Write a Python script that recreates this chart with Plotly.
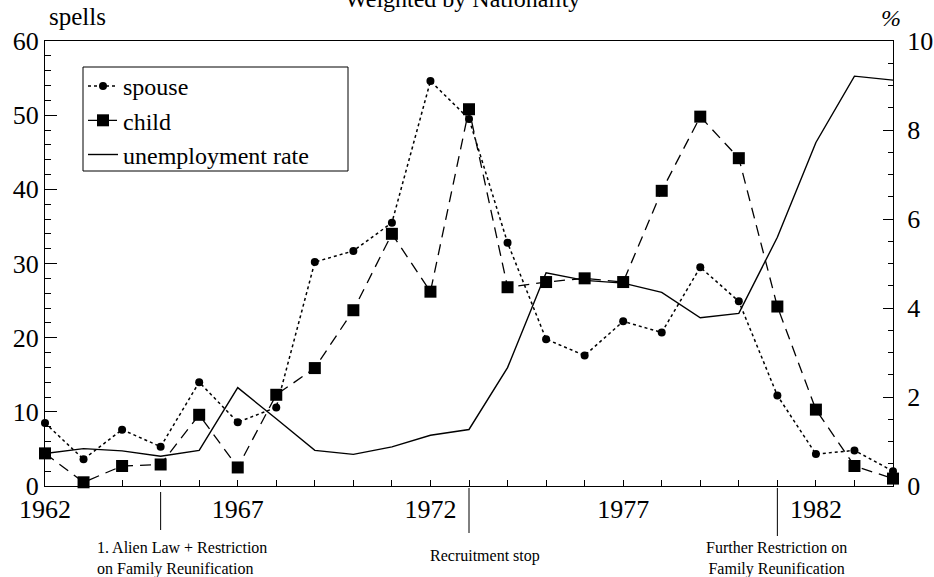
import plotly.graph_objects as go

years = list(range(1962, 1985))
spouse = [8.5, 3.6, 7.6, 5.3, 14.0, 8.6, 10.6, 30.2, 31.7, 35.5, 54.6, 49.5,
          32.8, 19.8, 17.6, 22.2, 20.7, 29.5, 24.9, 12.2, 4.3, 4.8, 2.0]
child = [4.4, 0.5, 2.7, 2.9, 9.6, 2.5, 12.3, 15.9, 23.7, 34.0, 26.2, 50.8,
         26.8, 27.5, 28.0, 27.5, 39.8, 49.8, 44.2, 24.2, 10.3, 2.7, 1.0]
unemp = [0.73, 0.84, 0.79, 0.67, 0.80, 2.21, 1.51, 0.80, 0.71, 0.88, 1.14, 1.27,
         2.66, 4.79, 4.62, 4.56, 4.35, 3.78, 3.88, 5.59, 7.72, 9.21, 9.12]

event_years = [1965, 1973, 1981]
event_labels = ["1. Alien Law + Restriction<br>on Family Reunification",
                "Recruitment stop",
                "Further Restriction on<br>Family Reunification"]

FONT = "Liberation Serif"
X0, X1 = 1962, 1984
L, R, T, B = 45, 893, 41, 486   # plot area in pixels
PW, PH = R - L, B - T


def px(xpix):
    return (xpix - L) / PW


def py(ypix):
    return (B - ypix) / PH


fig = go.Figure()
fig.add_trace(go.Scatter(x=years, y=spouse, name="spouse", mode="lines+markers",
                         cliponaxis=False,
                         line=dict(color="black", width=1.5, dash="dot"),
                         marker=dict(symbol="circle", size=8, color="black")))
fig.add_trace(go.Scatter(x=years, y=child, name="child", mode="lines+markers",
                         cliponaxis=False,
                         line=dict(color="black", width=1.3, dash="11px,7px"),
                         marker=dict(symbol="square", size=12, color="black")))
fig.add_trace(go.Scatter(x=years, y=unemp, name="unemployment rate", mode="lines",
                         line=dict(color="black", width=1.4), yaxis="y2"))

axis_common = dict(showgrid=False, zeroline=False, showline=True, linecolor="black",
                   linewidth=1.3, ticks="inside", tickcolor="black", automargin=False,
                   tickfont=dict(family=FONT, size=26, color="black"))

fig.update_layout(
    width=934, height=577,
    margin=dict(l=L, r=934 - R, t=T, b=577 - B, autoexpand=False),
    paper_bgcolor="white", plot_bgcolor="white",
    font=dict(family=FONT, color="black"),
    showlegend=True,
    legend=dict(x=px(83), y=py(64), xanchor="left", yanchor="top",
                bgcolor="rgba(0,0,0,0)", borderwidth=0,
                font=dict(family=FONT, size=24, color="black"),
                tracegroupgap=0, itemwidth=30),
    xaxis=dict(range=[X0, X1], tick0=1962, dtick=5, ticklen=6, mirror=True,
               minor=dict(dtick=1, ticklen=6, ticks="inside", tickcolor="black"),
               **axis_common),
    yaxis=dict(range=[0, 60], dtick=10, ticklen=12,
               minor=dict(dtick=2, ticklen=6, ticks="inside", tickcolor="black"),
               **axis_common),
    yaxis2=dict(range=[0, 10], dtick=2, ticklen=10, overlaying="y", side="right",
                ticklabelstandoff=8,
                minor=dict(dtick=0.5, ticklen=5, ticks="inside", tickcolor="black"),
                **axis_common),
)

# legend frame
fig.add_shape(type="rect", xref="paper", yref="paper", x0=px(83), x1=px(348),
              y0=py(67), y1=py(171), line=dict(color="black", width=1), layer="below")

# event marker lines below the x-axis
line_spans = [(492, 530), (488, 533), (488, 536)]
for yr, (p0, p1) in zip(event_years, line_spans):
    xp = (yr - X0) / (X1 - X0)
    fig.add_shape(type="line", xref="paper", yref="paper", x0=xp, x1=xp,
                  y0=py(p0), y1=py(p1), line=dict(color="black", width=1))

ann_pos = [(px(95), "left", 558), (px(485), "center", 556), (px(776), "center", 558)]
for (xp, xa, ypix), txt in zip(ann_pos, event_labels):
    fig.add_annotation(text=txt, xref="paper", yref="paper", x=xp, y=py(ypix),
                       xanchor=xa, yanchor="middle", align=xa, showarrow=False,
                       font=dict(family=FONT, size=16, color="black"))

fig.add_annotation(text="Weighted by Nationality", xref="paper", yref="paper",
                   x=px(462), y=py(-1), xanchor="center", yanchor="middle",
                   showarrow=False, font=dict(family=FONT, size=24, color="black"))
fig.add_annotation(text="spells", xref="paper", yref="paper",
                   x=px(77), y=py(16), xanchor="center", yanchor="middle",
                   showarrow=False, font=dict(family=FONT, size=25, color="black"))
fig.add_annotation(text="<i>%</i>", xref="paper", yref="paper",
                   x=px(891), y=py(18), xanchor="center", yanchor="middle",
                   showarrow=False, font=dict(family=FONT, size=24, color="black"))

fig.write_html("out.html", config={"displayModeBar": False},
               post_script="document.body.style.margin='0';")
